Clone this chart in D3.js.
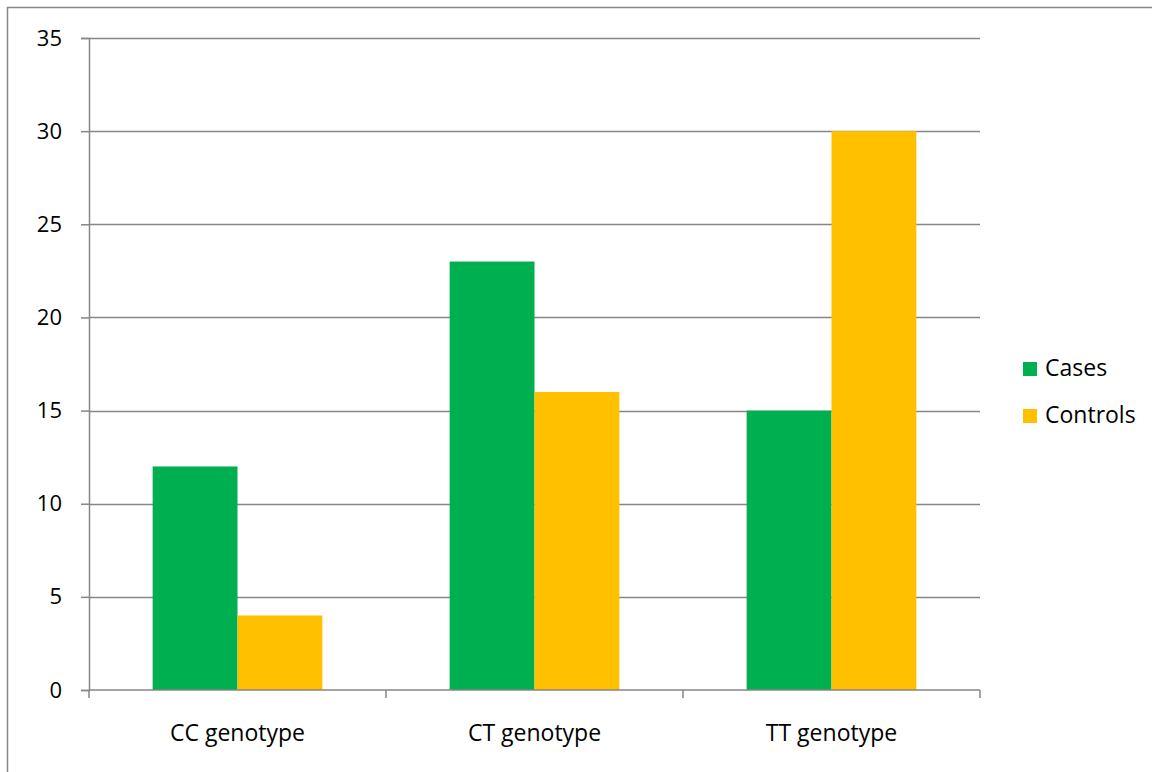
<!DOCTYPE html>
<html>
<head>
<meta charset="utf-8">
<script src="https://cdn.jsdelivr.net/npm/d3@7"></script>
<style>
  html, body { margin: 0; padding: 0; background: #fff; }
  svg { display: block; }
  text { font-family: "Open Sans", "Liberation Sans", sans-serif; fill: #000; }
</style>
</head>
<body>
<svg id="chart" width="1152" height="772"></svg>
<script>
// Genotype counts per group
const categories = ["CC genotype", "CT genotype", "TT genotype"];
const seriesNames = ["Cases", "Controls"];
const cases = [12, 23, 15];
const controls = [4, 16, 30];
const yTicks = [0, 5, 10, 15, 20, 25, 30, 35];
const colors = ["#00B050", "#FFC000"];

const series = [cases, controls];

const svg = d3.select("#chart");
const plot = { left: 89, right: 980, top: 38, bottom: 690 };

// outer chart frame
svg.append("rect")
  .attr("x", 7.5).attr("y", 7.5)
  .attr("width", 1200).attr("height", 1000)
  .attr("fill", "none")
  .attr("stroke", "#868686")
  .attr("stroke-width", 1.5);

const x0 = d3.scaleBand().domain(categories).range([plot.left, plot.right]).padding(0);
const x1 = d3.scaleBand().domain(seriesNames).range([0, x0.bandwidth()])
  .paddingInner(0).paddingOuter(0.75);
const y = d3.scaleLinear().domain([0, 35]).range([plot.bottom, plot.top]);

// horizontal gridlines
svg.append("g").selectAll("line").data(yTicks.filter(d => d > 0)).join("line")
  .attr("x1", plot.left).attr("x2", plot.right)
  .attr("y1", d => Math.round(y(d)) + 0.5).attr("y2", d => Math.round(y(d)) + 0.5)
  .attr("stroke", "#868686").attr("stroke-width", 1.5);

// bars
categories.forEach((cat, i) => {
  svg.append("g").selectAll("rect").data(seriesNames).join("rect")
    .attr("x", s => x0(cat) + x1(s))
    .attr("width", x1.bandwidth())
    .attr("y", (s, j) => y(series[j][i]))
    .attr("height", (s, j) => y(0) - y(series[j][i]))
    .attr("fill", (s, j) => colors[j]);
});

// y axis
const yAxis = d3.axisLeft(y).tickValues(yTicks).tickSize(8).tickPadding(19).tickFormat(d3.format("d"));
const gy = svg.append("g").attr("transform", `translate(${plot.left},0)`).call(yAxis);
gy.select(".domain").attr("stroke", "#868686").attr("stroke-width", 1.5);
gy.selectAll(".tick line").attr("stroke", "#868686").attr("stroke-width", 1.5);
gy.selectAll(".tick text").style("font-size", "22px").attr("fill", "#000");

// x axis with ticks on category boundaries
const xAxisG = svg.append("g").attr("transform", `translate(0,${plot.bottom})`);
xAxisG.append("line")
  .attr("x1", plot.left).attr("x2", plot.right)
  .attr("stroke", "#868686").attr("stroke-width", 1.5);
const bounds = categories.map(c => x0(c)).concat([plot.right]);
xAxisG.selectAll("line.tk").data(bounds).join("line")
  .attr("class", "tk")
  .attr("x1", d => d).attr("x2", d => d)
  .attr("y1", 0).attr("y2", 8)
  .attr("stroke", "#868686").attr("stroke-width", 1.5);
xAxisG.selectAll("text").data(categories).join("text")
  .attr("x", d => x0(d) + x0.bandwidth() / 2)
  .attr("y", 51)
  .attr("text-anchor", "middle")
  .style("font-size", "23px")
  .text(d => d);

// legend
const legend = svg.append("g").attr("transform", "translate(1023,362)");
seriesNames.forEach((name, j) => {
  const g = legend.append("g").attr("transform", `translate(0,${j * 47})`);
  g.append("rect").attr("width", 14).attr("height", 14).attr("fill", colors[j]);
  g.append("text").attr("x", 22).attr("y", 14).style("font-size", "23px").text(name);
});
</script>
</body>
</html>
